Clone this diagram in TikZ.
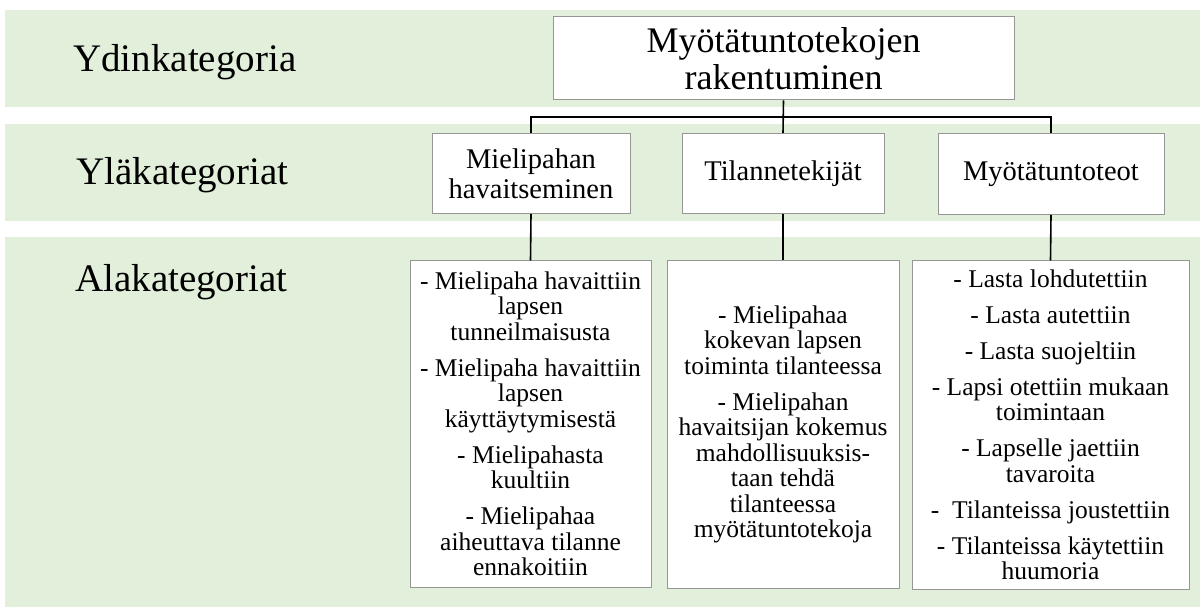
\documentclass[tikz,border=0pt]{standalone}
\usepackage{fontspec}
\setmainfont{Liberation Serif}
\definecolor{bandgreen}{RGB}{226,239,218}
\definecolor{boxgray}{RGB}{150,150,150}
\tikzset{
  band/.style={fill=bandgreen, draw=none},
  rowlabel/.style={anchor=base west, inner sep=0pt, font=\fontsize{39}{39}\selectfont},
  boxbase/.style={draw=boxgray, line width=1pt, fill=white, inner sep=0pt, align=center},
  topbox/.style={boxbase, font=\fontsize{36}{37}\selectfont},
  midbox/.style={boxbase, font=\fontsize{28.5}{30}\selectfont},
  lowbox/.style={boxbase, font=\fontsize{25.5}{25.5}\selectfont},
  conn/.style={draw=black, line width=1.6pt}
}
\begin{document}
\begin{tikzpicture}[x=1pt,y=-1pt]
\useasboundingbox (0,0) rectangle (1200,609);
% bands
\fill[band] (5,10) rectangle (1200,107);
\fill[band] (5,124) rectangle (1200,221);
\fill[band] (5,237) rectangle (1200,607);
% row labels
\node[rowlabel] (l1) at (73,72) {Ydinkategoria};
\node[rowlabel] (l2) at (76,185) {Yläkategoriat};
\node[rowlabel] (l3) at (75,292) {Alakategoriat};
% top box
\node[topbox, minimum width=461, minimum height=83] (t) at (783.5,58.5) {Myötätuntotekojen\\rakentuminen};
% middle boxes
\node[midbox, minimum width=198, minimum height=80] (m1) at (531,173.5) {Mielipahan\\havaitseminen};
\node[midbox, minimum width=202, minimum height=80] (m2) at (783,173.5) {Tilannetekijät};
\node[midbox, minimum width=226, minimum height=81] (m3) at (1051,174) {Myötätuntoteot};
% bottom boxes
\node[lowbox, minimum width=241, minimum height=326] (b1) at (530.5,424) {- Mielipaha havaittiin\\lapsen\\tunneilmaisusta\\[10.5pt]- Mielipaha havaittiin\\lapsen\\käyttäytymisestä\\[10.5pt]- Mielipahasta\\kuultiin\\[10.5pt]- Mielipahaa\\aiheuttava tilanne\\ennakoitiin};
\node[lowbox, minimum width=232, minimum height=327] (b2) at (783,424.5) {- Mielipahaa\\kokevan lapsen\\toiminta tilanteessa\\[10.5pt]- Mielipahan\\havaitsijan kokemus\\mahdollisuuksis-\\taan tehdä\\tilanteessa\\myötätuntotekoja};
\node[lowbox, minimum width=277, minimum height=328] (b3) at (1050.5,425) {- Lasta lohdutettiin\\[10.5pt]- Lasta autettiin\\[10.5pt]- Lasta suojeltiin\\[10.5pt]- Lapsi otettiin mukaan\\toimintaan\\[10.5pt]- Lapselle jaettiin\\tavaroita\\[10.5pt]-\ \ Tilanteissa joustettiin\\[10.5pt]- Tilanteissa käytettiin\\huumoria};
% connectors
\coordinate (bus) at (783,117);
\draw[conn] (t.south) -- (m2.north);
\draw[conn] (m1.north) |- (bus) -| (m3.north);
\draw[conn] (m1.south) -- (b1.north);
\draw[conn] (m2.south) -- (b2.north);
\draw[conn] (m3.south) -- (b3.north);
\end{tikzpicture}
\end{document}
